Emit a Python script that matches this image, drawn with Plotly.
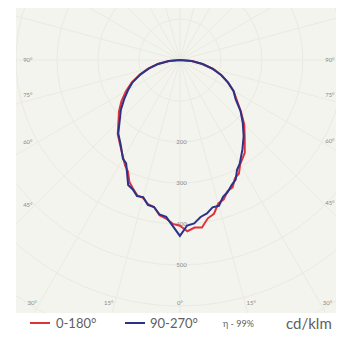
import numpy as np
import plotly.graph_objects as go

# ---- data (cd/klm), gamma angle from nadir, negative = left half ----
angles = [-90, -85, -80, -75, -70, -65, -60, -55, -50, -45, -40, -35, -30,
          -27.5, -25, -22.5, -20, -17.5, -15, -12.5, -10, -7.5, -5, -2.5, 0,
          2.5, 5, 7.5, 10, 12.5, 15, 17.5, 20, 22.5, 25, 27.5, 30,
          35, 40, 45, 50, 55, 60, 65, 70, 75, 80, 85, 90]
c0_180 = [0, 27, 55, 80, 104, 130, 152, 174, 194, 212, 236, 254, 278,
          290, 300, 322, 334, 346, 348, 360, 364, 382, 388, 400, 404,
          418, 410, 412, 392, 384, 362, 356, 340, 336, 318, 312, 294,
          276, 246, 222, 194, 170, 151, 130, 108, 84, 56, 29, 0]
c90_270 = [0, 27, 54, 78, 102, 127, 146, 166, 188, 208, 234, 252, 278,
           284, 306, 330, 336, 348, 346, 362, 364, 380, 384, 404, 429,
           404, 400, 386, 380, 368, 368, 350, 342, 330, 322, 302, 292,
           266, 242, 217, 193, 166, 151, 129, 107, 83, 56, 29, 0]
series_names = ["0-180°", "90-270°"]
series_colors = ["#e0323c", "#2b3388"]

circle_values = [100, 200, 300, 400, 500, 600, 700]
circle_labels = [200, 300, 400, 500]
radial_step = 15
angle_ticks = [90, 75, 60, 45, 30, 15, 0]
efficiency = "η - 99%"
unit_label = "cd/klm"

# ---- geometry of the frame ----
OFF = 8  # default page margin of the html body
X_RANGE = [-400, 398]
Y_RANGE = [-617, 127]
W, H = 344 - OFF, 340 - OFF
ML, MR, MT, MB = 16 - OFF, 1, 8 - OFF, 27
PW, PH = W - ML - MR, H - MT - MB

def to_xy(theta_deg, r):
    t = np.radians(np.asarray(theta_deg, dtype=float))
    r = np.asarray(r, dtype=float)
    return r * np.sin(t), -r * np.cos(t)

def px_x(px):  # page px -> paper
    return (px - OFF - ML) / PW

def px_y(py):
    return (H - MB - (py - OFF)) / PH

fig = go.Figure()
grid_col = "#eaeae3"

phi = np.linspace(0, 360, 361)
for cv in circle_values:
    gx, gy = to_xy(phi, [cv] * len(phi))
    fig.add_trace(go.Scatter(x=gx, y=gy, mode="lines",
                             line=dict(color=grid_col, width=1),
                             hoverinfo="skip", showlegend=False))
for a in range(0, 360, radial_step):
    gx, gy = to_xy([a, a], [0, 900])
    fig.add_trace(go.Scatter(x=gx, y=gy, mode="lines",
                             line=dict(color=grid_col, width=1),
                             hoverinfo="skip", showlegend=False))

lx, ly = to_xy([0] * len(circle_labels), circle_labels)
fig.add_trace(go.Scatter(x=lx + 4, y=ly, mode="text",
                         text=[str(v) for v in circle_labels],
                         textfont=dict(size=6, color="#8a8a86", family="Lato"),
                         hoverinfo="skip", showlegend=False))

xlim_l, xlim_r, ylim = 371, 366, 593
tx, ty, tt = [], [], []
for a in angle_ticks:
    for side in ([-1, 1] if a != 0 else [1]):
        s, c = np.sin(np.radians(a)), np.cos(np.radians(a))
        xl = xlim_l if side < 0 else xlim_r
        cands = []
        if s > 1e-9:
            cands.append(xl / s)
        if c > 1e-9:
            cands.append(ylim / c)
        t = min(cands)
        x, y = side * s * t, -c * t
        if abs(abs(x) - xl) < 1e-6 and a != 90:
            y += 10 + 0.12 * (90 - a)  # labels sit a little above the ray
        elif abs(y + ylim) < 1e-6 and a != 0:
            x += side * (12 + 0.2 * a)
        tx.append(x)
        ty.append(y)
        tt.append(f"{a}°")
fig.add_trace(go.Scatter(x=tx, y=ty, mode="text", text=tt,
                         textfont=dict(size=6, color="#8a8a86", family="Lato"),
                         hoverinfo="skip", showlegend=False))

for vals, name, col in [(c0_180, series_names[0], series_colors[0]),
                        (c90_270, series_names[1], series_colors[1])]:
    cx, cy = to_xy(angles, vals)
    fig.add_trace(go.Scatter(x=cx, y=cy, mode="lines", name=name,
                             line=dict(color=col, width=2),
                             showlegend=False))

shapes = []
annotations = []
leg_y = px_y(323)
for (x0, x1), col in zip([(30, 50), (125, 145)], series_colors):
    shapes.append(dict(type="line", xref="paper", yref="paper",
                       x0=px_x(x0), x1=px_x(x1), y0=leg_y, y1=leg_y,
                       line=dict(color=col, width=2)))
for txt, xp, size in [(series_names[0], 54, 13), (series_names[1], 148, 13),
                      (efficiency, 221, 9), (unit_label, 284, 15)]:
    annotations.append(dict(text=txt, xref="paper", yref="paper",
                            x=px_x(xp), y=leg_y, xanchor="left", yanchor="middle",
                            showarrow=False,
                            font=dict(size=size, color="#606060", family="Lato")))

fig.update_layout(
    width=W, height=H,
    margin=dict(l=ML, r=MR, t=MT, b=MB, pad=0),
    paper_bgcolor="#ffffff",
    plot_bgcolor="#f4f4ee",
    xaxis=dict(range=X_RANGE, visible=False, fixedrange=True),
    yaxis=dict(range=Y_RANGE, visible=False, fixedrange=True),
    shapes=shapes,
    annotations=annotations,
    showlegend=False,
)

fig.write_html("out.html")
